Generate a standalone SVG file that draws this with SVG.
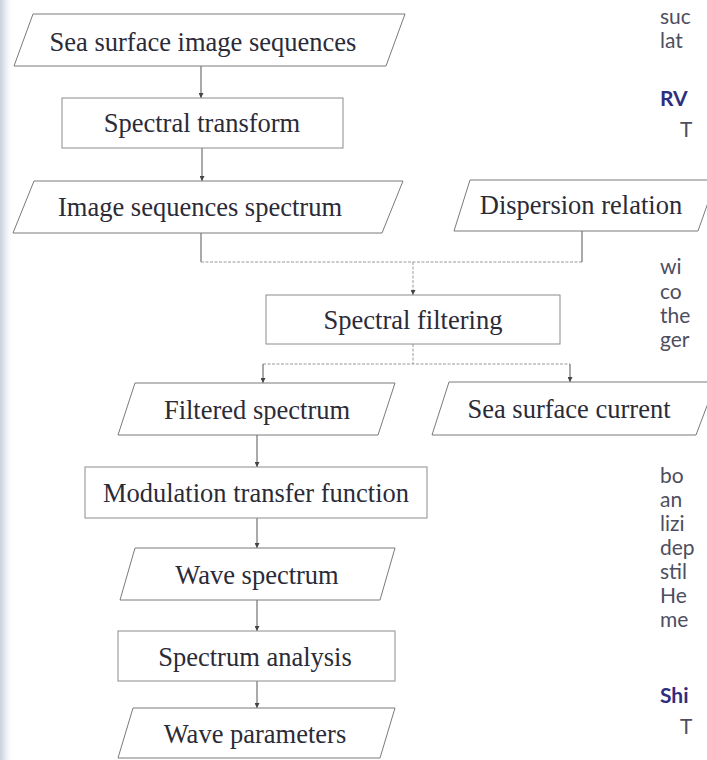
<svg xmlns="http://www.w3.org/2000/svg" width="707" height="760" viewBox="0 0 707 760">
  <defs>
    <marker id="tip" viewBox="0 0 6 6" refX="6" refY="3" markerWidth="5" markerHeight="5" orient="auto" markerUnits="userSpaceOnUse">
      <path d="M0,0 L6,3 L0,6 Z" fill="#444"/>
    </marker>
    <linearGradient id="edge" x1="0" y1="0" x2="1" y2="0">
      <stop offset="0" stop-color="#c9d1dc"/>
      <stop offset="0.35" stop-color="#e4e8ee"/>
      <stop offset="1" stop-color="#ffffff" stop-opacity="0"/>
    </linearGradient>
  </defs>
  <style>
    .box { fill: #ffffff; stroke: #8c8c8c; stroke-width: 1; }
    .para { fill: #ffffff; stroke: #7a7a7a; stroke-width: 1; }
    .label { font-family: "Liberation Serif", "Times New Roman", serif; font-size: 26.5px; fill: #2b2b38; text-anchor: middle; }
    .wire { fill: none; stroke: #555; stroke-width: 1; }
    .faint { fill: none; stroke: #9a9a9a; stroke-width: 1; stroke-dasharray: 3 1.5; }
    .body { font-family: "Lato", "Open Sans", sans-serif; font-size: 21px; fill: #4e4e60; }
    .head { font-family: "Lato", "Open Sans", sans-serif; font-size: 21px; font-weight: bold; fill: #2e2e7e; }
  </style>

  <rect x="0" y="0" width="707" height="760" fill="#ffffff"/>
  <rect x="0" y="0" width="14" height="760" fill="url(#edge)"/>

  <!-- connectors -->
  <g id="connectors">
    <line class="wire" x1="201" y1="66" x2="201" y2="98" marker-end="url(#tip)"/>
    <line class="wire" x1="202" y1="148" x2="202" y2="181" marker-end="url(#tip)"/>
    <polyline class="wire" points="201,233 201,262"/>
    <polyline class="faint" points="201,262 582,262"/>
    <line class="wire" x1="582" y1="231" x2="582" y2="262"/>
    <line class="faint" x1="413" y1="262" x2="413" y2="295" marker-end="url(#tip)"/>
    <line class="faint" x1="413" y1="344" x2="413" y2="364"/>
    <polyline class="faint" points="263,364 570,364"/>
    <line class="wire" x1="263" y1="364" x2="263" y2="383" marker-end="url(#tip)"/>
    <line class="wire" x1="570" y1="364" x2="570" y2="382" marker-end="url(#tip)"/>
    <line class="wire" x1="257" y1="435" x2="257" y2="467" marker-end="url(#tip)"/>
    <line class="wire" x1="257" y1="518" x2="257" y2="548" marker-end="url(#tip)"/>
    <line class="wire" x1="257" y1="600" x2="257" y2="631" marker-end="url(#tip)"/>
    <line class="wire" x1="257" y1="681" x2="257" y2="708" marker-end="url(#tip)"/>
  </g>

  <!-- nodes -->
  <g id="sea-surface-image-sequences">
    <polygon class="para" points="33,14 405,14 386,66 14,66"/>
    <text class="label" x="203" y="51">Sea surface image sequences</text>
  </g>
  <g id="spectral-transform">
    <rect class="box" x="62" y="98" width="281" height="50"/>
    <text class="label" x="202" y="132">Spectral transform</text>
  </g>
  <g id="image-sequences-spectrum">
    <polygon class="para" points="34,181 403,181 382,233 13,233"/>
    <text class="label" x="200" y="216">Image sequences spectrum</text>
  </g>
  <g id="dispersion-relation">
    <polygon class="para" points="470,180 716,180 698,231 454,231"/>
    <text class="label" x="581" y="214">Dispersion relation</text>
  </g>
  <g id="spectral-filtering">
    <rect class="box" x="266" y="295" width="294" height="49"/>
    <text class="label" x="413" y="329">Spectral filtering</text>
  </g>
  <g id="filtered-spectrum">
    <polygon class="para" points="135,383 395,383 378,435 118,435"/>
    <text class="label" x="257" y="419">Filtered spectrum</text>
  </g>
  <g id="sea-surface-current">
    <polygon class="para" points="449,382 716,382 696,435 432,435"/>
    <text class="label" x="569" y="418">Sea surface current</text>
  </g>
  <g id="modulation-transfer-function">
    <rect class="box" x="85" y="467" width="342" height="51"/>
    <text class="label" x="256" y="502">Modulation transfer function</text>
  </g>
  <g id="wave-spectrum">
    <polygon class="para" points="135,548 395,548 380,600 120,600"/>
    <text class="label" x="257" y="584">Wave spectrum</text>
  </g>
  <g id="spectrum-analysis">
    <rect class="box" x="118" y="631" width="277" height="50"/>
    <text class="label" x="255" y="666">Spectrum analysis</text>
  </g>
  <g id="wave-parameters">
    <polygon class="para" points="133,708 395,708 380,758 118,758"/>
    <text class="label" x="255" y="743">Wave parameters</text>
  </g>

  <!-- running page text at the right margin -->
  <g id="page-text">
    <text class="body" x="660" y="24">suc</text>
    <text class="body" x="660" y="48">lat</text>
    <text class="head" x="660" y="106">RV</text>
    <text class="body" x="680" y="137">T</text>
    <text class="body" x="660" y="274">wi</text>
    <text class="body" x="660" y="299">co</text>
    <text class="body" x="660" y="323">the</text>
    <text class="body" x="660" y="347">ger</text>
    <text class="body" x="660" y="483">bo</text>
    <text class="body" x="660" y="507">an</text>
    <text class="body" x="660" y="531">lizi</text>
    <text class="body" x="660" y="555">dep</text>
    <text class="body" x="660" y="579">stil</text>
    <text class="body" x="660" y="603">He</text>
    <text class="body" x="660" y="627">me</text>
    <text class="head" x="660" y="703">Shi</text>
    <text class="body" x="680" y="734">T</text>
  </g>
</svg>
